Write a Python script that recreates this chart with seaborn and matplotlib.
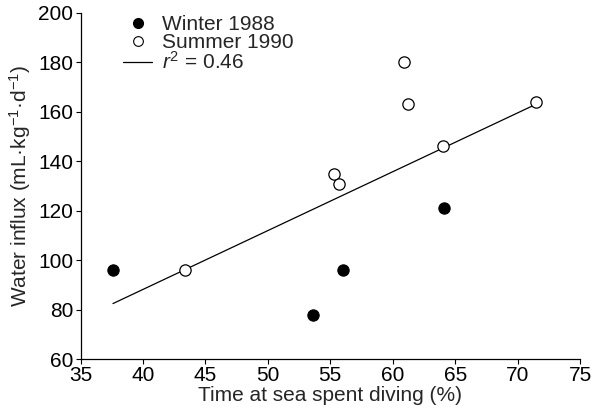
import matplotlib
matplotlib.use("Agg")
import matplotlib.pyplot as plt
from matplotlib.lines import Line2D
import pandas as pd
import seaborn as sns

# values
winter_time = [37.6, 53.6, 56.0, 64.1]
winter_influx = [96, 78, 96, 121]
summer_time = [43.4, 55.3, 55.7, 60.9, 61.2, 64.0, 71.5]
summer_influx = [96, 135, 131, 180, 163, 146, 164]

x_ticks = [35, 40, 45, 50, 55, 60, 65, 70, 75]
y_ticks = [60, 80, 100, 120, 140, 160, 180, 200]
legend_labels = ["Winter 1988", "Summer 1990", r"$r^2$ = 0.46"]

winter = pd.DataFrame({"time": winter_time, "influx": winter_influx})
summer = pd.DataFrame({"time": summer_time, "influx": summer_influx})
both = pd.concat([winter, summer], ignore_index=True)

sns.set_style("ticks")
plt.rcParams["font.family"] = ["Liberation Sans", "DejaVu Sans"]
plt.rcParams["mathtext.fontset"] = "custom"
plt.rcParams["mathtext.rm"] = "Liberation Sans"
plt.rcParams["mathtext.it"] = "Liberation Sans:italic"

fig = plt.figure(figsize=(5.95, 4.11), dpi=100)
ax = fig.add_axes([0.1353, 0.1265, 0.8395, 0.8419])

# least-squares line over all points (r^2 ~ 0.46)
sns.regplot(data=both, x="time", y="influx", scatter=False, ci=None,
            truncate=True, color="black", line_kws=dict(lw=0.9), ax=ax)

sns.scatterplot(data=winter, x="time", y="influx", color="black",
                edgecolor="black", s=66, linewidth=0.8, zorder=3, ax=ax)
sns.scatterplot(data=summer, x="time", y="influx", color="white",
                edgecolor="black", s=66, linewidth=0.9, zorder=3, ax=ax)

ax.set_xlim(35, 75)
ax.set_ylim(60, 200)
ax.set_xticks(x_ticks)
ax.set_yticks(y_ticks)
sns.despine(ax=ax)
for s in ["left", "bottom"]:
    ax.spines[s].set_linewidth(0.9)
    ax.spines[s].set_color("black")
ax.tick_params(length=3.6, width=0.8, labelsize=15, pad=1.5, colors="black")

ax.set_xlabel("Time at sea spent diving (%)", fontsize=15, labelpad=1)
ax.set_ylabel(r"Water influx (mL·kg$^{-1}$·d$^{-1}$)", fontsize=15, labelpad=4)

handles = [
    Line2D([], [], marker="o", ls="none", color="black", markersize=7),
    Line2D([], [], marker="o", ls="none", mfc="white", mec="black",
           markersize=7, mew=0.8),
    Line2D([], [], color="black", lw=0.9),
]
ax.legend(handles, legend_labels, loc="upper left", bbox_to_anchor=(0.085, 0.994),
          frameon=False, fontsize=15, handlelength=1.4, handletextpad=0.45,
          labelspacing=-0.04, borderpad=0, borderaxespad=0)

fig.savefig("out.png", dpi=100)
